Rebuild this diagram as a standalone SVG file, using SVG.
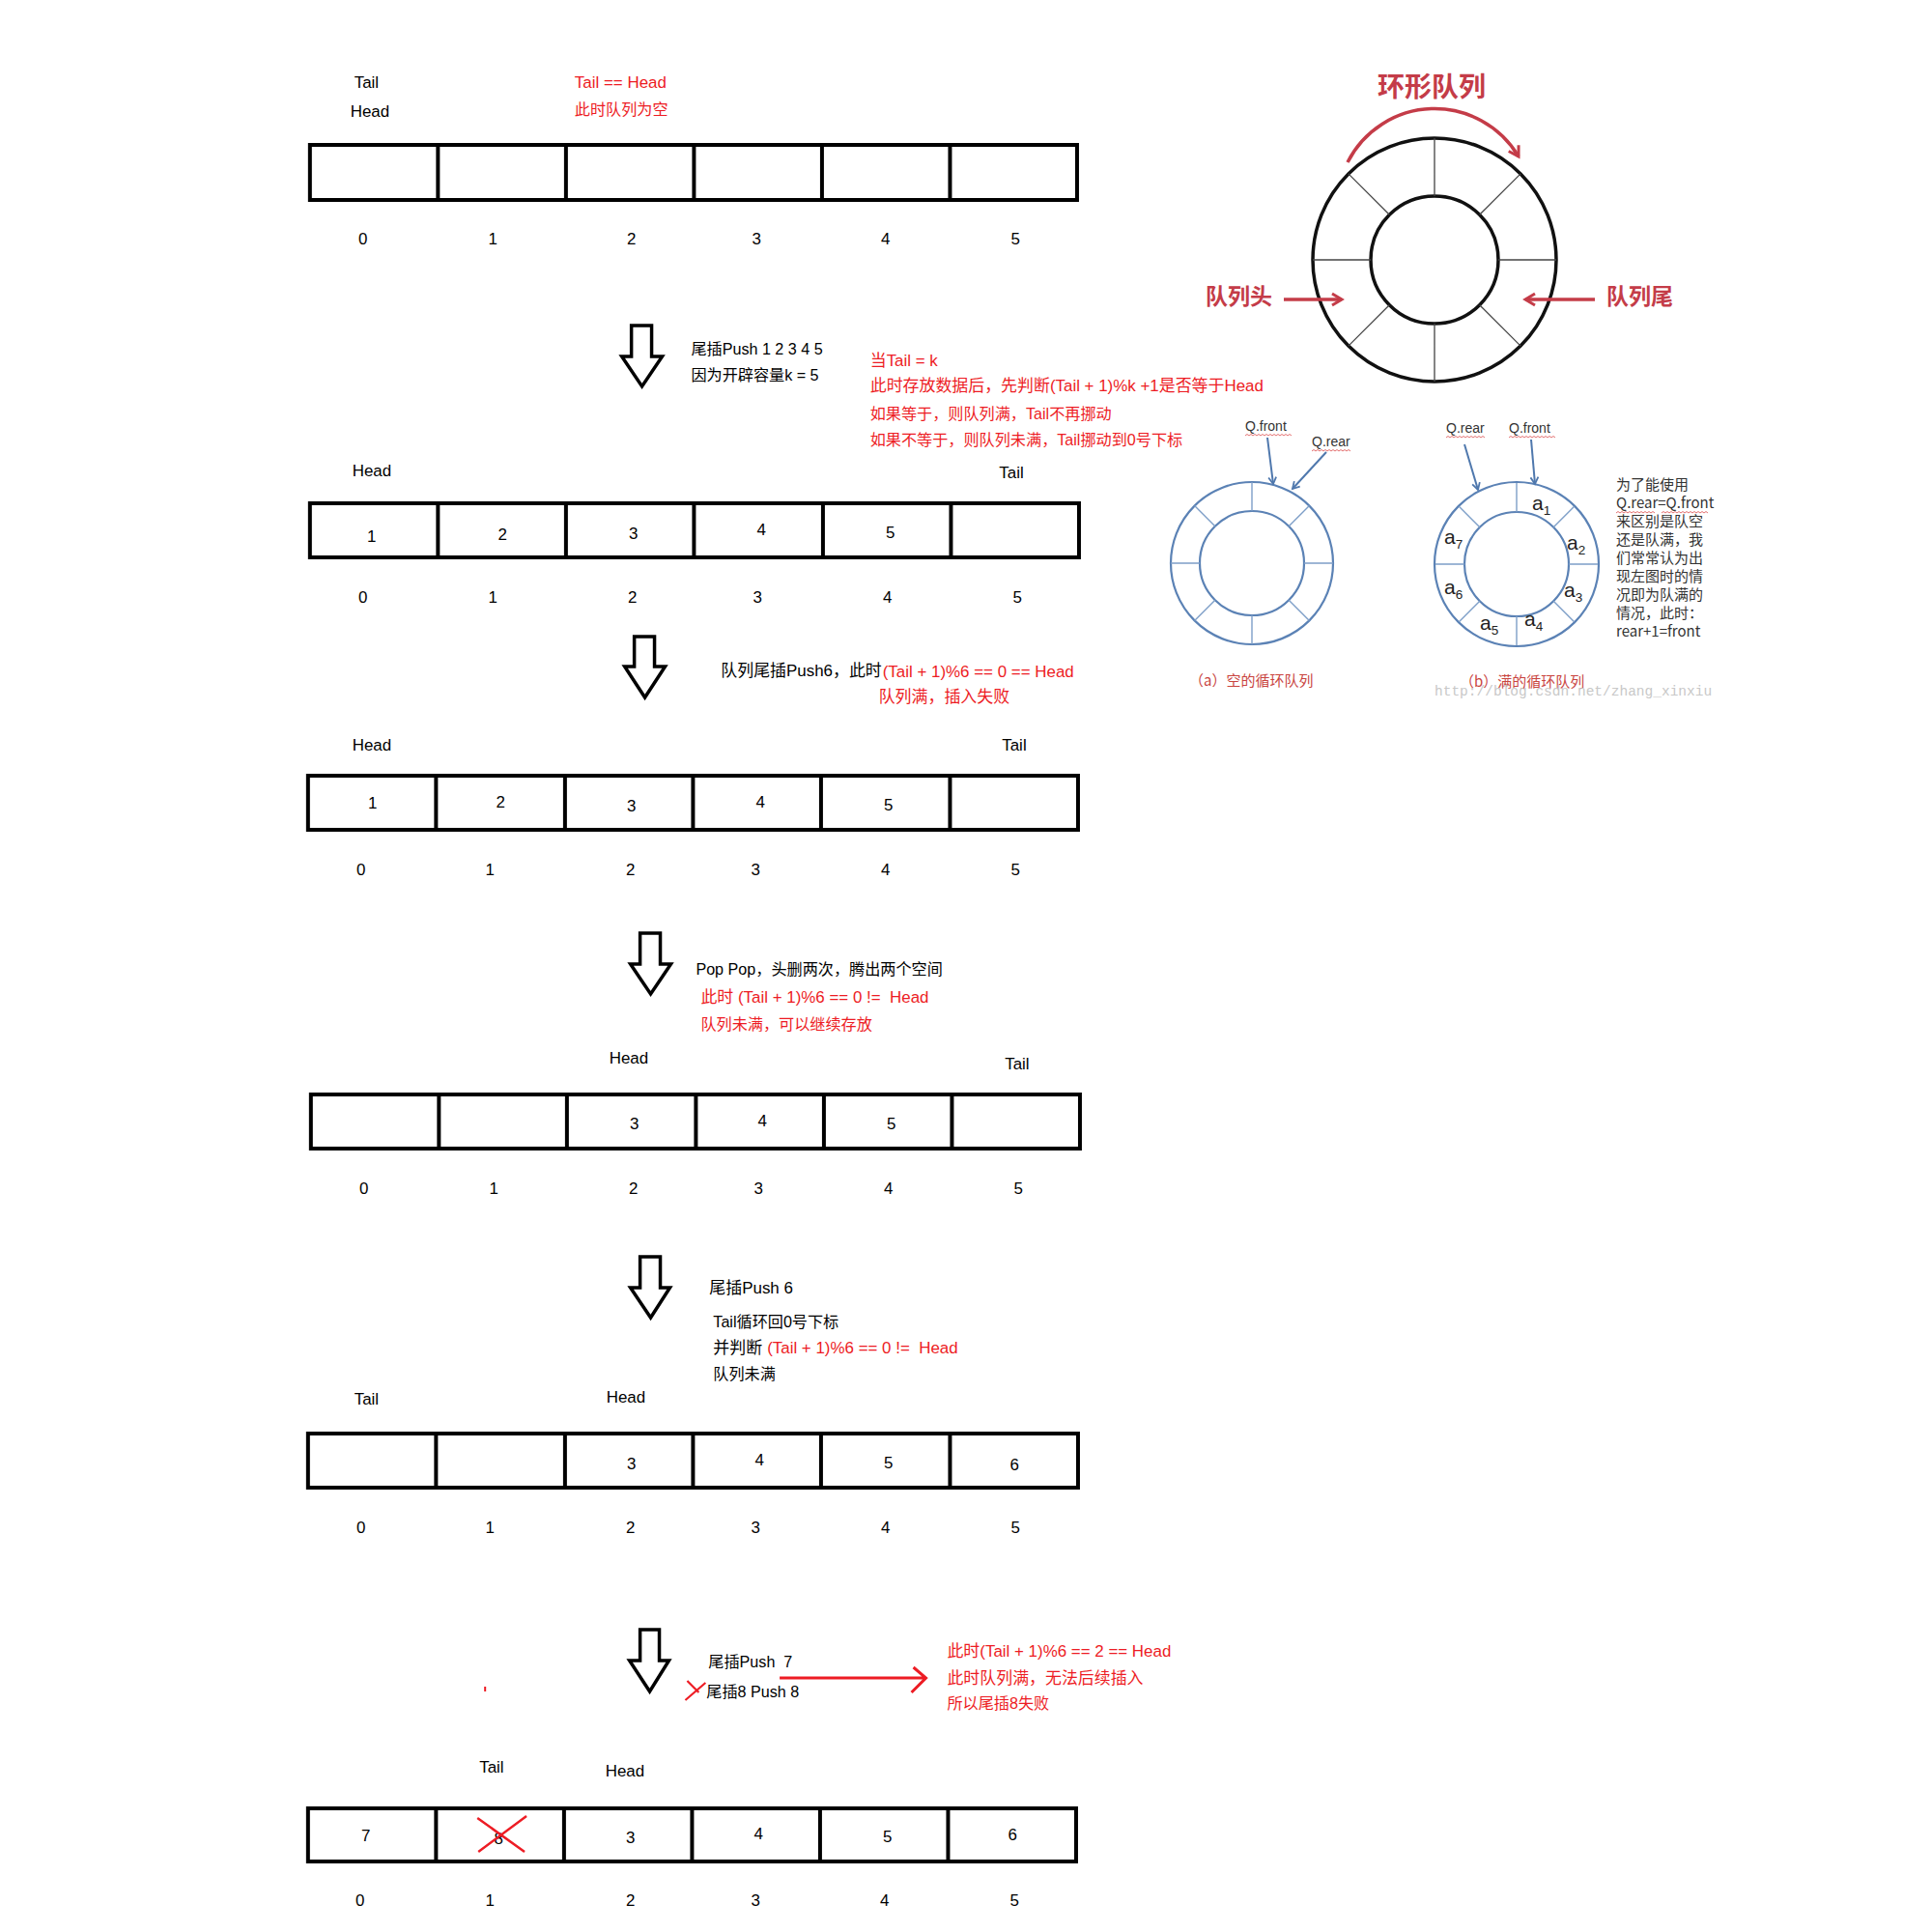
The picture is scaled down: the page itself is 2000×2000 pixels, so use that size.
<svg xmlns="http://www.w3.org/2000/svg" width="2000" height="2000" viewBox="0 0 2000 2000">
<style>
.t{font-family:'Liberation Sans','Noto Sans CJK SC',sans-serif;font-size:17px;fill:#000}
.c{font-size:16.2px}
.r{fill:#ed1c24}
.m{text-anchor:middle}
.tbl{fill:none;stroke:#000;stroke-width:4}
.big{fill:#fff;stroke:#000;stroke-width:3.5;stroke-linejoin:miter}
.ring{fill:none;stroke:#111;stroke-width:3.5}
.spk{fill:none;stroke:#444;stroke-width:1.3}
.bring{fill:none;stroke:#5b82b5;stroke-width:2.2}
.bspk{fill:none;stroke:#7e9fc8;stroke-width:1.4}
.barr{fill:none;stroke:#4f78ad;stroke-width:2}
.rl{font-family:'Noto Sans CJK SC','Liberation Sans',sans-serif;font-weight:700;fill:#c43c48}
.rarr{fill:none;stroke:#c43c48;stroke-width:3.5}
.q{font-family:'Liberation Sans','Noto Sans CJK SC',sans-serif;font-size:14px;fill:#333}
.sq{fill:none;stroke:#e06060;stroke-width:0.9}
.al{font-family:'Liberation Sans',sans-serif;font-size:21px;fill:#222}
.sub{font-size:13.5px}
.cap{font-family:'Noto Sans CJK SC','Liberation Sans',sans-serif;font-size:15px;fill:#c9453f}
.side{font-family:'Noto Sans CJK SC','Liberation Sans',sans-serif;font-size:15px;fill:#333}
</style>
<defs>
<marker id="mr" markerUnits="userSpaceOnUse" markerWidth="16" markerHeight="16" refX="11" refY="7" orient="auto" overflow="visible">
<path d="M1,1 L11,7 L1,13" fill="none" stroke="#c43c48" stroke-width="3"/>
</marker>
<marker id="mb" markerUnits="userSpaceOnUse" markerWidth="12" markerHeight="12" refX="8" refY="5" orient="auto" overflow="visible">
<path d="M1,1 L8,5 L1,9" fill="none" stroke="#4f78ad" stroke-width="1.8"/>
</marker>
</defs>
<rect width="2000" height="2000" fill="#fff"/>

<g id="left-panel" transform="scale(0.9964,1)">
<!-- Step 1: empty queue -->
<g id="step1">
<text class="t" x="368" y="91">Tail</text>
<text class="t" x="364" y="121">Head</text>
<text class="t r" x="597" y="91">Tail == Head</text>
<text class="t c r" x="597" y="119">此时队列为空</text>
<g id="table1">
<rect class="tbl" x="322" y="150" width="797" height="57"/>
<path class="tbl" d="M455,150V207M588,150V207M721,150V207M854,150V207M987,150V207"/>
</g>
<g class="t m">
<text x="377" y="253">0</text><text x="512" y="253">1</text><text x="656" y="253">2</text><text x="786" y="253">3</text><text x="920" y="253">4</text><text x="1055" y="253">5</text>
</g>
</g>

<g id="note1">
<text class="t c" x="718" y="367">尾插Push 1 2 3 4 5</text>
<text class="t c" x="718" y="394">因为开辟容量k = 5</text>
<text class="t r" x="904" y="379">当Tail = k</text>
<text class="t r" x="904" y="405" font-size="16.4">此时存放数据后，先判断(Tail + 1)%k +1是否等于Head</text>
<text class="t c r" x="904" y="434">如果等于，则队列满，Tail不再挪动</text>
<text class="t c r" x="904" y="461">如果不等于，则队列未满，Tail挪动到0号下标</text>
</g>

<!-- Step 2 -->
<g id="step2">
<text class="t" x="366" y="493">Head</text>
<text class="t" x="1038" y="495">Tail</text>
<g id="table2">
<rect class="tbl" x="322" y="521" width="799" height="56"/>
<path class="tbl" d="M455,521V577M588,521V577M721,521V577M855,521V577M988,521V577"/>
</g>
<g class="t m">
<text x="386" y="561">1</text><text x="522" y="559">2</text><text x="658" y="558">3</text><text x="791" y="554">4</text><text x="925" y="557">5</text>
</g>
<g class="t m">
<text x="377" y="624">0</text><text x="512" y="624">1</text><text x="657" y="624">2</text><text x="787" y="624">3</text><text x="922" y="624">4</text><text x="1057" y="624">5</text>
</g>
</g>

<g id="note2">
<text class="t" x="749" y="700" font-size="16.1">队列尾插Push6，此时</text>
<text class="t r" x="917" y="701">(Tail + 1)%6 == 0 == Head</text>
<text class="t r" x="913" y="727" font-size="16">队列满，插入失败</text>
</g>

<!-- Step 3 -->
<g id="step3">
<text class="t" x="366" y="777">Head</text>
<text class="t" x="1041" y="777">Tail</text>
<g id="table3">
<rect class="tbl" x="320" y="803" width="800" height="56"/>
<path class="tbl" d="M453,803V859M587,803V859M720,803V859M853,803V859M987,803V859"/>
</g>
<g class="t m">
<text x="387" y="837">1</text><text x="520" y="836">2</text><text x="656" y="840">3</text><text x="790" y="836">4</text><text x="923" y="839">5</text>
</g>
<g class="t m">
<text x="375" y="906">0</text><text x="509" y="906">1</text><text x="655" y="906">2</text><text x="785" y="906">3</text><text x="920" y="906">4</text><text x="1055" y="906">5</text>
</g>
</g>

<g id="note3">
<text class="t c" x="723" y="1009">Pop Pop，头删两次，腾出两个空间</text>
<text class="t r" x="728" y="1038" xml:space="preserve">此时 (Tail + 1)%6 == 0 !=  Head</text>
<text class="t c r" x="728" y="1066">队列未满，可以继续存放</text>
</g>

<!-- Step 4 -->
<g id="step4">
<text class="t" x="633" y="1101">Head</text>
<text class="t" x="1044" y="1107">Tail</text>
<g id="table4">
<rect class="tbl" x="323" y="1133" width="799" height="56"/>
<path class="tbl" d="M456,1133V1189M589,1133V1189M723,1133V1189M856,1133V1189M989,1133V1189"/>
</g>
<g class="t m">
<text x="659" y="1169">3</text><text x="792" y="1166">4</text><text x="926" y="1169">5</text>
</g>
<g class="t m">
<text x="378" y="1236">0</text><text x="513" y="1236">1</text><text x="658" y="1236">2</text><text x="788" y="1236">3</text><text x="923" y="1236">4</text><text x="1058" y="1236">5</text>
</g>
</g>

<g id="note4">
<text class="t" x="737" y="1339" font-size="16.5">尾插Push 6</text>
<text class="t c" x="741" y="1374">Tail循环回0号下标</text>
<text class="t" x="741" y="1401" xml:space="preserve">并判断 <tspan class="r" x="797">(Tail + 1)%6 == 0 !=  Head</tspan></text>
<text class="t c" x="741" y="1428">队列未满</text>
</g>

<!-- Step 5 -->
<g id="step5">
<text class="t" x="368" y="1454">Tail</text>
<text class="t" x="630" y="1452">Head</text>
<g id="table5">
<rect class="tbl" x="320" y="1484" width="800" height="56"/>
<path class="tbl" d="M453,1484V1540M587,1484V1540M720,1484V1540M853,1484V1540M987,1484V1540"/>
</g>
<g class="t m">
<text x="656" y="1521">3</text><text x="789" y="1517">4</text><text x="923" y="1520">5</text><text x="1054" y="1522">6</text>
</g>
<g class="t m">
<text x="375" y="1587">0</text><text x="509" y="1587">1</text><text x="655" y="1587">2</text><text x="785" y="1587">3</text><text x="920" y="1587">4</text><text x="1055" y="1587">5</text>
</g>
</g>

<g id="note5">
<text class="t c" x="736" y="1726" xml:space="preserve">尾插Push  7</text>
<path d="M712,1760 L733,1742 M714,1740 L726,1752" fill="none" stroke="#ed1c24" stroke-width="2.2"/>
<text class="t c" x="734" y="1757">尾插8 Push 8</text>
<text class="t r" x="984" y="1715">此时(Tail + 1)%6 == 2 == Head</text>
<text class="t r" x="984" y="1743" font-size="16">此时队列满，无法后续插入</text>
<text class="t c r" x="984" y="1769">所以尾插8失败</text>
<rect x="503" y="1746" width="2" height="5" fill="#ed1c24"/>
</g>

<!-- Step 6 -->
<g id="step6">
<text class="t" x="498" y="1835">Tail</text>
<text class="t" x="629" y="1839">Head</text>
<g id="table6">
<rect class="tbl" x="320" y="1872" width="798" height="55"/>
<path class="tbl" d="M453,1872V1927M586,1872V1927M719,1872V1927M852,1872V1927M985,1872V1927"/>
</g>
<g class="t m">
<text x="380" y="1906">7</text><text x="518" y="1909">8</text><text x="655" y="1908">3</text><text x="788" y="1904">4</text><text x="922" y="1907">5</text><text x="1052" y="1905">6</text>
</g>
<path d="M496,1882 L545,1917 M547,1880 L497,1917" fill="none" stroke="#ed1c24" stroke-width="2.5"/>
<g class="t m">
<text x="374" y="1973">0</text><text x="509" y="1973">1</text><text x="655" y="1973">2</text><text x="785" y="1973">3</text><text x="919" y="1973">4</text><text x="1054" y="1973">5</text>
</g>
</g>

<!-- Connectors -->
<g id="connectors">
<polygon class="big" points="656,337 677,337 677,369 688,369 667,400 646,369 656,369"/>
<polygon class="big" points="659,659 680,659 680,690 691,690 670,722 649,690 659,690"/>
<polygon class="big" points="665,966 686,966 686,998 697,998 676,1029 655,998 665,998"/>
<polygon class="big" points="665,1301 686,1301 686,1333 696,1333 676,1364 655,1333 665,1333"/>
<polygon class="big" points="665,1687 685,1687 685,1719 695,1719 675,1751 654,1719 665,1719"/>
<path d="M810,1737 H962 M949,1726 L962,1737 L947,1752" fill="none" stroke="#ed1c24" stroke-width="3"/>
</g>
</g>

<!-- Ring queue illustration -->
<g id="ring">
<text class="rl" x="1482" y="100" font-size="28" text-anchor="middle">环形队列</text>
<path class="rarr" d="M1395,168 A101,101 0 0 1 1572,162" marker-end="url(#mr)"/>
<circle class="ring" cx="1485" cy="269" r="126"/>
<circle class="ring" cx="1485" cy="269" r="66"/>
<path class="spk" d="M1551,269H1611M1531.7,315.7L1574.1,358.1M1485,335V395M1438.3,315.7L1395.9,358.1M1419,269H1359M1438.3,222.3L1395.9,179.9M1485,203V143M1531.7,222.3L1574.1,179.9"/>
<text class="rl" x="1248" y="315" font-size="23">队列头</text>
<path class="rarr" d="M1329,310H1389" marker-end="url(#mr)"/>
<text class="rl" x="1663" y="315" font-size="23">队列尾</text>
<path class="rarr" d="M1651,310H1579" marker-end="url(#mr)"/>
</g>

<!-- (a) empty circular queue -->
<g id="queue-a">
<circle class="bring" cx="1296" cy="583" r="84"/>
<circle class="bring" cx="1296" cy="583" r="54"/>
<path class="bspk" d="M1350,583H1380M1334.2,621.2L1355.4,642.4M1296,637V667M1257.8,621.2L1236.6,642.4M1242,583H1212M1257.8,544.8L1236.6,523.6M1296,529V499M1334.2,544.8L1355.4,523.6"/>
<text class="q" x="1289" y="446">Q.front</text>
<path class="sq" d="M1289,451 l2,-1.5 2,1.5 2,-1.5 2,1.5 2,-1.5 2,1.5 2,-1.5 2,1.5 2,-1.5 2,1.5 2,-1.5 2,1.5 2,-1.5 2,1.5 2,-1.5 2,1.5 2,-1.5 2,1.5 2,-1.5 2,1.5 2,-1.5 2,1.5 2,-1.5 2,1.5"/>
<text class="q" x="1358" y="462">Q.rear</text>
<path class="sq" d="M1358,467 l2,-1.5 2,1.5 2,-1.5 2,1.5 2,-1.5 2,1.5 2,-1.5 2,1.5 2,-1.5 2,1.5 2,-1.5 2,1.5 2,-1.5 2,1.5 2,-1.5 2,1.5 2,-1.5 2,1.5 2,-1.5 2,1.5"/>
<path class="barr" d="M1312,453 L1318,501" marker-end="url(#mb)"/>
<path class="barr" d="M1373,468 L1338,506" marker-end="url(#mb)"/>
<text class="cap" x="1231" y="710">（a）空的循环队列</text>
</g>

<!-- (b) full circular queue -->
<g id="queue-b">
<circle class="bring" cx="1570" cy="584" r="85"/>
<circle class="bring" cx="1570" cy="584" r="54"/>
<path class="bspk" d="M1624,584H1654M1608.2,622.2L1629.4,643.4M1570,638V668M1531.8,622.2L1510.6,643.4M1516,584H1486M1531.8,545.8L1510.6,524.6M1570,530V500M1608.2,545.8L1629.4,524.6"/>
<text class="al" x="1586" y="528">a<tspan class="sub" dy="5">1</tspan></text>
<text class="al" x="1622" y="569">a<tspan class="sub" dy="5">2</tspan></text>
<text class="al" x="1619" y="618">a<tspan class="sub" dy="5">3</tspan></text>
<text class="al" x="1578" y="648">a<tspan class="sub" dy="5">4</tspan></text>
<text class="al" x="1532" y="652">a<tspan class="sub" dy="5">5</tspan></text>
<text class="al" x="1495" y="615">a<tspan class="sub" dy="5">6</tspan></text>
<text class="al" x="1495" y="563">a<tspan class="sub" dy="5">7</tspan></text>
<text class="q" x="1497" y="448">Q.rear</text>
<path class="sq" d="M1497,453 l2,-1.5 2,1.5 2,-1.5 2,1.5 2,-1.5 2,1.5 2,-1.5 2,1.5 2,-1.5 2,1.5 2,-1.5 2,1.5 2,-1.5 2,1.5 2,-1.5 2,1.5 2,-1.5 2,1.5 2,-1.5 2,1.5"/>
<text class="q" x="1562" y="448">Q.front</text>
<path class="sq" d="M1562,453 l2,-1.5 2,1.5 2,-1.5 2,1.5 2,-1.5 2,1.5 2,-1.5 2,1.5 2,-1.5 2,1.5 2,-1.5 2,1.5 2,-1.5 2,1.5 2,-1.5 2,1.5 2,-1.5 2,1.5 2,-1.5 2,1.5 2,-1.5 2,1.5 2,-1.5 2,1.5"/>
<path class="barr" d="M1516,460 L1530,507" marker-end="url(#mb)"/>
<path class="barr" d="M1585,455 L1589,501" marker-end="url(#mb)"/>
<text class="cap" x="1511" y="711">（b）满的循环队列</text>
<text x="1485" y="720" font-family="'Liberation Mono',monospace" font-size="14.5" fill="#c8c8c8">http://blog.csdn.net/zhang_xinxiu</text>
</g>

<g id="side-note">
<text class="side" x="1673" y="507">为了能使用</text>
<text class="side" x="1673" y="526" font-size="14.5">Q.rear=Q.front</text>
<path class="sq" d="M1673,531 l2,-1.5 2,1.5 2,-1.5 2,1.5 2,-1.5 2,1.5 2,-1.5 2,1.5 2,-1.5 2,1.5 2,-1.5 2,1.5 2,-1.5 2,1.5 2,-1.5 2,1.5 2,-1.5 2,1.5 2,-1.5 2,1.5 M1720,531 l2,-1.5 2,1.5 2,-1.5 2,1.5 2,-1.5 2,1.5 2,-1.5 2,1.5 2,-1.5 2,1.5 2,-1.5 2,1.5 2,-1.5 2,1.5 2,-1.5 2,1.5 2,-1.5 2,1.5 2,-1.5 2,1.5 2,-1.5 2,1.5 2,-1.5 2,1.5"/>
<text class="side" x="1673" y="545">来区别是队空</text>
<text class="side" x="1673" y="564">还是队满，我</text>
<text class="side" x="1673" y="583">们常常认为出</text>
<text class="side" x="1673" y="602">现左图时的情</text>
<text class="side" x="1673" y="621">况即为队满的</text>
<text class="side" x="1673" y="640">情况，此时：</text>
<text class="side" x="1673" y="659">rear+1=front</text>
</g>
</svg>
